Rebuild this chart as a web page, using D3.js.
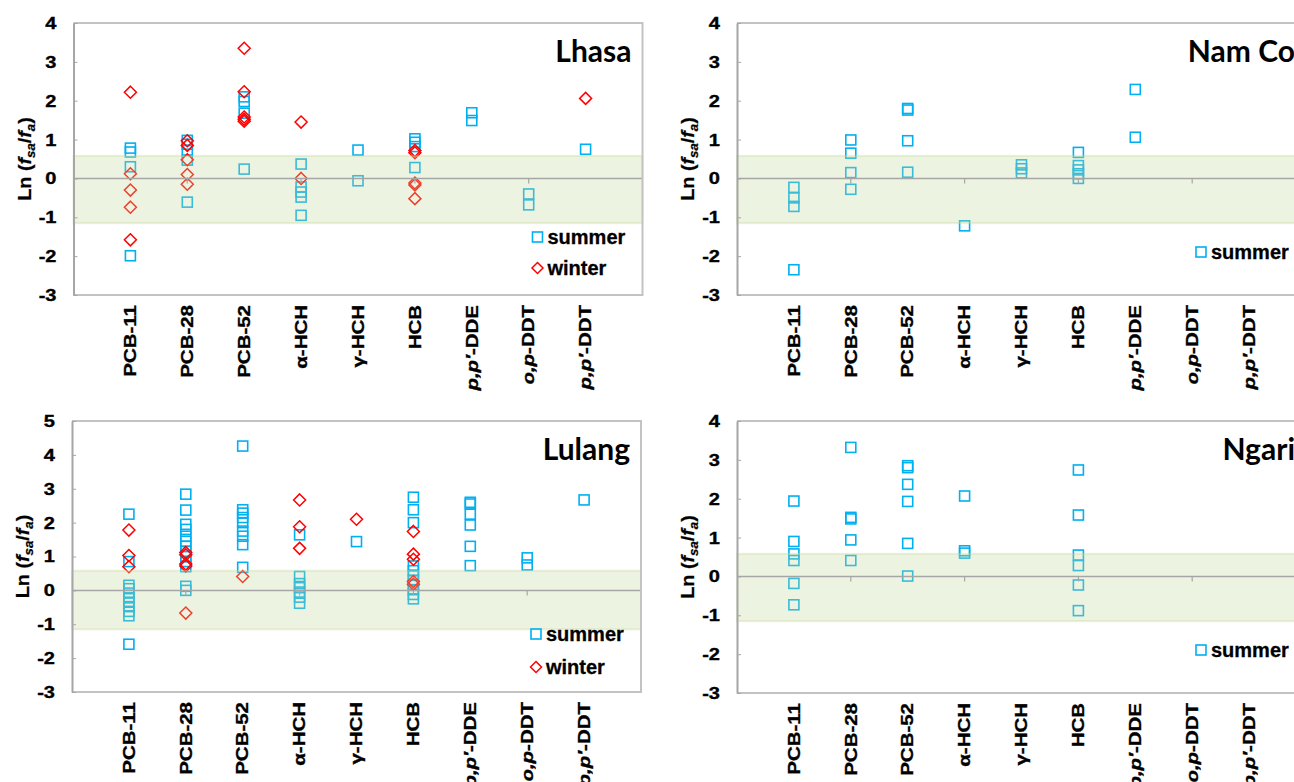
<!DOCTYPE html>
<html>
<head>
<meta charset="utf-8">
<script src="https://cdn.jsdelivr.net/npm/d3@7"></script>
<style>
  body { margin: 0; background: #fff; }
  svg { display: block; }
</style>
</head>
<body>
<script>
// categories on the x axis (positions 1..9)
const categories = ["PCB-11", "PCB-28", "PCB-52", "α-HCH", "γ-HCH", "HCB", "p,p′-DDE", "o,p-DDT", "p,p′-DDT"];

// Ln(fsa/fa) values, one list per category
const lhasaSummer = [
  [0.78, 0.68, 0.3, -1.99],
  [0.98, 0.88, 0.72, 0.47, -0.61],
  [2.1, 1.98, 1.68, 0.24],
  [0.37, -0.22, -0.35, -0.48, -0.95],
  [0.73, -0.06],
  [1.02, 0.93, 0.82, 0.28],
  [1.69, 1.49],
  [-0.4, -0.68],
  [0.75]
];
const lhasaWinter = [
  [2.22, 0.12, -0.3, -0.74, -1.58],
  [0.97, 0.85, 0.48, 0.1, -0.15],
  [3.35, 2.23, 1.58, 1.52, 1.47],
  [1.45, 0.0],
  [],
  [0.72, 0.66, -0.12, -0.17, -0.52],
  [],
  [],
  [2.06]
];
const namcoSummer = [
  [-0.23, -0.5, -0.72, -2.35],
  [0.99, 0.65, 0.15, -0.28],
  [1.8, 1.76, 0.97, 0.16],
  [-1.22],
  [0.35, 0.25, 0.14],
  [0.67, 0.33, 0.22, 0.12, 0.0],
  [2.29, 1.06],
  [],
  []
];
const lulangSummer = [
  [2.25, 0.85, 0.15, 0.05, -0.08, -0.22, -0.35, -0.48, -0.62, -0.75, -1.59],
  [2.84, 2.37, 1.95, 1.8, 1.6, 1.45, 1.3, 1.15, 1.0, 0.85, 0.7, 0.12, 0.0],
  [4.26, 2.38, 2.28, 2.15, 2.0, 1.75, 1.6, 1.35, 0.68],
  [1.64, 0.41, 0.2, 0.08, -0.05, -0.2, -0.38],
  [1.44],
  [2.75, 2.38, 2.0, 0.72, 0.58, 0.45, 0.3, 0.15, 0.02, -0.12, -0.25],
  [2.6, 2.55, 2.25, 1.93, 1.3, 0.73],
  [0.96, 0.75],
  [2.67]
];
const lulangWinter = [
  [1.78, 1.03, 0.7],
  [1.12, 1.05, 0.78, 0.72, -0.67],
  [0.41],
  [2.67, 1.88, 1.24],
  [2.1],
  [1.74, 1.07, 0.92, 0.26, 0.18],
  [],
  [],
  []
];
const ngariSummer = [
  [1.94, 0.9, 0.58, 0.41, -0.18, -0.73],
  [3.32, 1.52, 1.48, 0.94, 0.41],
  [2.85, 2.8, 2.37, 1.93, 0.85, 0.01],
  [2.07, 0.66, 0.6],
  [],
  [2.74, 1.58, 0.55, 0.28, -0.22, -0.88],
  [],
  [],
  []
];

// shaded band of equilibrium
const bandRange = [-1.15, 0.58];

const summerColor = "#00b0f0";
const winterColor = "#ff0000";
const textFont = "'Liberation Sans', Arial, sans-serif";

const svg = d3.select("body").append("svg")
  .attr("width", 1294)
  .attr("height", 782)
  .style("font-family", textFont);

const panels = [
  { name: "Lhasa", left: 73.5, top: 23, width: 569, height: 272, yDomain: [-3, 4], summer: lhasaSummer, winter: lhasaWinter, legendY: [214, 245] },
  { name: "Nam Co", left: 737, top: 23, width: 569, height: 272, yDomain: [-3, 4], summer: namcoSummer, winter: null, legendY: [229] },
  { name: "Lulang", left: 72, top: 421, width: 569, height: 271, yDomain: [-3, 5], summer: lulangSummer, winter: lulangWinter, legendY: [213, 246] },
  { name: "Ngari", left: 737, top: 421, width: 569, height: 272, yDomain: [-3, 4], summer: ngariSummer, winter: null, legendY: [229] }
];

const diamond = s => `M0,${-s}L${s},0L0,${s}L${-s},0Z`;

function flatten(series) {
  return series.flatMap((vals, i) => vals.map(v => ({ i: i + 1, v })));
}

panels.forEach(p => {
  const x = d3.scaleLinear().domain([0, 10]).range([0, p.width]);
  const y = d3.scaleLinear().domain(p.yDomain).range([p.height, 0]);

  const g = svg.append("g").attr("transform", `translate(${p.left},${p.top})`);

  // summer squares
  g.append("g").selectAll("rect")
    .data(flatten(p.summer))
    .join("rect")
    .attr("x", d => x(d.i) - 5)
    .attr("y", d => y(d.v) - 5)
    .attr("width", 10)
    .attr("height", 10)
    .attr("fill", "none")
    .attr("stroke", summerColor)
    .attr("stroke-width", 1.6);

  // winter diamonds
  if (p.winter) {
    g.append("g").selectAll("path")
      .data(flatten(p.winter))
      .join("path")
      .attr("transform", d => `translate(${x(d.i)},${y(d.v)})`)
      .attr("d", diamond(6))
      .attr("fill", "none")
      .attr("stroke", winterColor)
      .attr("stroke-width", 1.5);
  }

  // band drawn over the points, semi-transparent like the original
  g.append("rect")
    .attr("x", 0)
    .attr("width", p.width)
    .attr("y", y(bandRange[1]))
    .attr("height", y(bandRange[0]) - y(bandRange[1]))
    .attr("fill", "#c4d79b")
    .attr("fill-opacity", 0.3)
    .attr("stroke", "#c4d79b")
    .attr("stroke-opacity", 0.35)
    .attr("stroke-width", 2);

  // zero line with tick marks
  g.append("line")
    .attr("x1", 0).attr("x2", p.width)
    .attr("y1", y(0)).attr("y2", y(0))
    .attr("stroke", "#a6a6a6")
    .attr("stroke-width", 1.5);
  g.append("g").selectAll("line")
    .data([2, 4, 6, 8])
    .join("line")
    .attr("x1", d => x(d)).attr("x2", d => x(d))
    .attr("y1", y(0)).attr("y2", y(0) + 5)
    .attr("stroke", "#a6a6a6")
    .attr("stroke-width", 1.2);

  // plot box
  g.append("path")
    .attr("d", `M0,0H${p.width}V${p.height}H0`)
    .attr("fill", "none")
    .attr("stroke", "#c3c3c3")
    .attr("stroke-width", 2);

  // y axis
  const yAxis = d3.axisLeft(y)
    .tickValues(d3.range(p.yDomain[0], p.yDomain[1] + 1))
    .tickFormat(d => String(d))
    .tickSizeInner(-4)
    .tickSizeOuter(0)
    .tickPadding(17);
  const ya = g.append("g").call(yAxis);
  ya.select(".domain").attr("stroke", "#a6a6a6").attr("stroke-width", 2);
  ya.selectAll(".tick line").attr("stroke", "#a6a6a6");
  ya.selectAll(".tick text")
    .attr("x", 0)
    .attr("transform", "translate(-17,0) scale(1.18,1)")
    .attr("fill", "#000")
    .attr("stroke", "#000")
    .attr("stroke-width", 0.35)
    .style("font-family", textFont)
    .style("font-size", "17px")
    .style("font-weight", "bold");

  // y axis title: Ln (f_sa/f_a)
  const yt = g.append("text")
    .attr("transform", `translate(-49,${p.height / 2}) rotate(-90) scale(1.1,1)`)
    .attr("text-anchor", "middle")
    .attr("dy", "0.35em")
    .attr("stroke", "#000")
    .attr("stroke-width", 0.25)
    .style("font-size", "18px")
    .style("font-weight", "bold");
  yt.append("tspan").text("Ln (");
  yt.append("tspan").text("f").style("font-style", "italic");
  yt.append("tspan").text("sa").attr("dy", 4).style("font-size", "12px").style("font-style", "italic");
  yt.append("tspan").text("/").attr("dy", -4);
  yt.append("tspan").text("f").style("font-style", "italic");
  yt.append("tspan").text("a").attr("dy", 4).style("font-size", "12px").style("font-style", "italic");
  yt.append("tspan").text(")").attr("dy", -4);

  // category labels, rotated, under the plot
  const labels = g.append("g").selectAll("text")
    .data(categories)
    .join("text")
    .attr("transform", (d, i) => `translate(${x(i + 1)},${p.height + 10}) rotate(-90) scale(1.28,1)`)
    .attr("text-anchor", "end")
    .attr("dy", "0.36em")
    .attr("stroke", "#000")
    .attr("stroke-width", 0.35)
    .style("font-size", "16px")
    .style("font-weight", "bold");
  labels.each(function(d) {
    const t = d3.select(this);
    const k = d.indexOf("-");
    if (d.includes(",")) {
      t.append("tspan").text(d.slice(0, k)).style("font-style", "italic");
      t.append("tspan").text(d.slice(k));
    } else {
      t.text(d);
    }
  });

  // site name
  g.append("text")
    .attr("x", p.width - 11)
    .attr("y", 39)
    .attr("text-anchor", "end")
    .style("font-family", "Lato, 'Open Sans', sans-serif")
    .style("font-size", "30px")
    .style("font-weight", "bold")
    .text(p.name);

  // legend
  const lx = p.width - 105;
  const lg = g.append("g");
  lg.append("rect")
    .attr("x", lx - 5).attr("y", p.legendY[0] - 5)
    .attr("width", 10).attr("height", 10)
    .attr("fill", "none").attr("stroke", summerColor).attr("stroke-width", 1.6);
  lg.append("text")
    .attr("x", lx + 10).attr("y", p.legendY[0])
    .attr("dy", "0.35em")
    .attr("stroke", "#000").attr("stroke-width", 0.3)
    .style("font-size", "20px").style("font-weight", "bold")
    .text("summer");
  if (p.winter) {
    lg.append("path")
      .attr("transform", `translate(${lx},${p.legendY[1]})`)
      .attr("d", diamond(5.5))
      .attr("fill", "none").attr("stroke", winterColor).attr("stroke-width", 1.5);
    lg.append("text")
      .attr("x", lx + 10).attr("y", p.legendY[1])
      .attr("dy", "0.35em")
      .attr("stroke", "#000").attr("stroke-width", 0.3)
      .style("font-size", "20px").style("font-weight", "bold")
      .text("winter");
  }
});
</script>
</body>
</html>
